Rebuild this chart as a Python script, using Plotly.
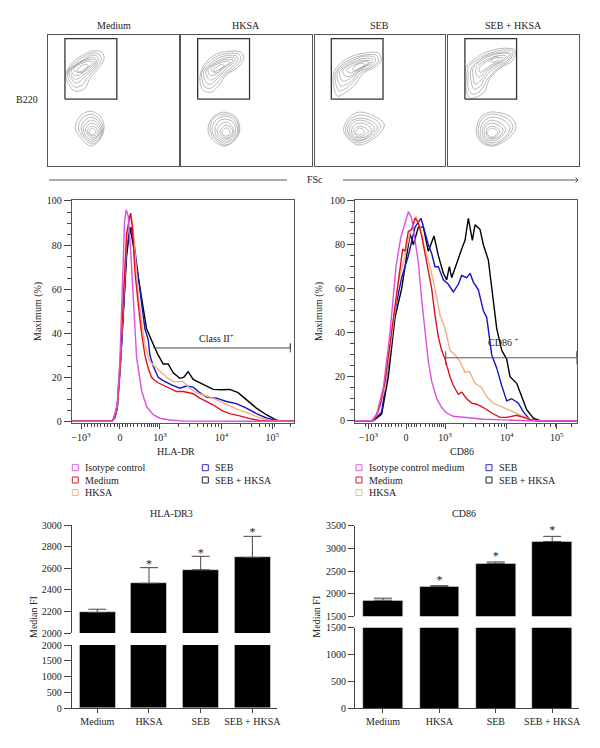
import plotly.graph_objects as go

W, H = 600, 748
SERIF = "Liberation Serif"
TXT = "#222222"
AX = "#444444"

# ---------- gating contour data (FSc, B220 in panel channel units) ----------
panel_names = ["Medium", "HKSA", "SEB", "SEB + HKSA"]
gate_x = [16.7, 68.7, 68.7, 16.7, 16.7]
gate_y = [67, 67, 127.7, 127.7, 67]

medium_top = [
    [(17.7,92.7),(23.3,102.7),(31.7,109.3),(43.3,115),(53.3,114.3),(56,107.7),(50,97.7),(41.7,87.7),(36.7,77.7),(26.7,75),(21,81),(17.7,87.7)],
    [(19,93),(24,101),(32,107),(43,113),(51,112),(53,106),(47,97),(39,88),(34,81),(27,79),(22,84)],
    [(20,94),(25,100),(33,105),(43,111),(49,110),(50,105),(45,97),(37,90),(32,85),(27,83),(23,88)],
    [(21,95),(26,100),(34,105),(43,109),(47,108),(48,104),(43,97),(36,92),(31,88),(27,87),(23,91)],
    [(23,96),(28,101),(35,105),(43,107),(46,106),(46,103),(41,98),(35,94),(30,91),(26,91)],
    [(25,97),(30,101),(36,104),(42,105),(44,104),(43,101),(38,98),(33,95),(29,94)],
    [(29,96),(33,100),(38,102),(40,101),(38,97),(34,94),(31,94)],
]
medium_low = [
    [(56,39),(52,50),(42,55),(32,50),(27,39),(32,29),(43,20),(52,27)],
    [(55,38),(51,47),(43,52),(34,48),(30,39),(34,30),(44,22),(52,28)],
    [(54,37),(50,45),(43,49),(36,45),(33,38),(36,30),(44,24),(51,29)],
    [(53,36),(50,42),(44,46),(38,43),(35,37),(38,30),(44,26),(50,30)],
    [(52,35),(49,40),(44,43),(40,41),(37,36),(40,31),(44,28),(49,30)],
    [(50,35),(48,38),(44,40),(41,38),(39,35),(41,32),(44,30),(48,31)],
    [(48,34),(46,37),(44,38),(42,36),(41,34),(42,32),(44,31),(46,32)],
]
hksa_top = [
    [(20,94),(25,104),(35,112),(48,115),(60,114),(63,108),(57,99),(45,91),(38,81),(30,74),(22,76),(19,86)],
    [(21,94),(26,102),(36,110),(48,113),(58,112),(60,107),(54,99),(43,91),(36,83),(30,78),(24,79),(21,87)],
    [(23,95),(28,101),(37,108),(48,111),(56,110),(57,106),(51,99),(41,92),(35,86),(30,82),(26,83),(23,89)],
    [(25,96),(30,101),(38,106),(48,109),(54,108),(54,105),(48,100),(40,93),(34,88),(30,86),(27,88)],
    [(27,97),(32,101),(39,105),(47,107),(52,106),(51,104),(45,100),(38,94),(33,91),(29,91)],
    [(30,97),(34,101),(41,104),(47,105),(49,104),(47,102),(42,99),(37,96),(33,94)],
    [(33,97),(37,100),(41,102),(43,100),(39,96),(36,93),(34,94)],
]
hksa_low = [
    [(59,37),(55,49),(43,54),(32,49),(27,37),(31,27),(43,20),(54,26)],
    [(58,37),(54,48),(43,52),(33,48),(29,37),(33,28),(44,21),(54,27)],
    [(57,36),(53,46),(44,50),(35,46),(31,36),(35,28),(44,23),(53,28)],
    [(55,36),(52,44),(44,47),(37,44),(34,35),(37,28),(45,25),(52,29)],
    [(53,35),(50,41),(45,44),(39,41),(36,35),(39,29),(45,27),(51,30)],
    [(52,35),(49,39),(45,41),(41,38),(39,34),(41,30),(45,28),(49,30)],
    [(49,34),(48,37),(45,38),(42,36),(41,34),(42,31),(45,30),(48,31)],
]
seb_top = [
    [(19,93),(24,101),(35,109),(49,113),(64,113),(67,106),(60,99),(49,93),(40,81),(30,73),(23,70),(19,81)],
    [(21,93),(26,100),(36,107),(49,111),(62,111),(64,105),(57,99),(46,93),(38,83),(30,77),(25,75),(21,83)],
    [(23,94),(28,100),(38,106),(50,110),(60,109),(61,105),(54,99),(44,94),(37,85),(30,81),(26,80),(23,86)],
    [(25,94),(31,100),(40,105),(51,108),(58,107),(58,104),(52,100),(43,94),(36,88),(30,85),(27,86)],
    [(28,95),(33,100),(42,104),(51,106),(56,105),(55,103),(50,100),(42,95),(36,90),(31,90)],
    [(32,96),(37,100),(44,103),(51,105),(54,104),(52,101),(47,99),(41,96),(36,93)],
    [(38,97),(42,101),(47,103),(50,102),(48,99),(43,96),(40,95)],
]
seb_low = [
    [(70,41),(62,49),(45,54),(35,49),(29,36),(35,26),(45,21),(60,28)],
    [(66,40),(60,47),(46,51),(36,47),(31,36),(36,27),(45,23),(58,29)],
    [(63,39),(57,45),(46,48),(37,45),(33,36),(37,28),(45,25),(56,30)],
    [(60,38),(55,43),(46,46),(38,43),(35,35),(38,29),(45,26),(54,30)],
    [(57,36),(53,41),(46,43),(40,41),(37,35),(39,30),(45,28),(52,30)],
    [(54,35),(51,38),(46,40),(41,38),(39,35),(41,31),(45,29),(50,31)],
    [(50,34),(48,37),(45,38),(42,36),(41,34),(42,32),(45,31),(48,32)],
]
both_top = [
    [(18,99),(25,106),(38,114),(55,118),(67,116),(65,106),(52,98),(42,88),(35,73),(22,68),(18,76),(18,89)],
    [(20,99),(27,105),(39,112),(54,116),(65,115),(62,106),(50,98),(40,88),(33,76),(24,72),(20,79),(20,90)],
    [(23,98),(29,104),(40,111),(54,114),(63,113),(60,106),(48,99),(38,90),(32,80),(26,77),(23,84)],
    [(25,98),(31,104),(41,110),(54,113),(61,112),(57,106),(46,100),(37,92),(31,84),(27,82),(25,89)],
    [(28,98),(33,103),(42,108),(53,111),(58,110),(55,106),(44,100),(36,94),(31,89),(28,92)],
    [(31,98),(36,103),(44,107),(52,109),(55,108),(51,105),(43,101),(36,96),(32,94)],
    [(43,106),(47,110),(51,108),(48,105),(44,104)],
]
both_low = [
    [(68,39),(63,49),(42,54),(32,48),(28,34),(33,24),(45,20),(62,29)],
    [(65,39),(60,47),(43,52),(33,46),(30,34),(34,25),(45,21),(59,29)],
    [(62,38),(57,45),(44,49),(35,44),(32,34),(35,26),(45,23),(57,29)],
    [(58,37),(54,42),(44,46),(37,42),(34,34),(37,27),(45,25),(54,30)],
    [(55,36),(52,40),(44,43),(38,40),(36,33),(38,28),(45,27),(52,30)],
    [(52,35),(49,38),(44,40),(40,38),(38,33),(40,29),(45,28),(50,31)],
    [(50,34),(47,37),(44,38),(41,36),(39,33),(41,30),(45,29),(48,31)],
]
panel_rings = [medium_top + medium_low, hksa_top + hksa_low, seb_top + seb_low, both_top + both_low]

# ---------- histogram data (display channel, % of maximum) ----------
hla_ticks = [153, 270, 390, 575, 728]
hist_ticktext = ["\u221210<sup>3</sup>", "0", "10<sup>3</sup>", "10<sup>4</sup>", "10<sup>5</sup>"]
hla_minor = [163,173,183,193,203,213,223,233,243,253,262,278,286,294,302,310,322,336,345,352,358,364,370,376,382,
             445,478,502,520,534,546,556,566,631,664,688,706,720,733,781]
cd86_ticks = [175, 288, 405, 590, 740]
cd86_minor = [165,185,195,205,215,225,235,245,255,265,275,296,304,312,320,330,345,358,366,374,382,388,394,400,
              460,495,520,538,552,564,574,582,645,680,704,722,736,785]

hla_iso_x = [125,245,250,262,270,278,284,289,295,302,310,320,335,350,370,390,420,460,793]
hla_iso_y = [0,0,0.6,8,29,67,91,96,93,78,54,29,14,6.7,3,1.4,0.6,0.1,0]
hla_med_x = [125,245,255,262,270,280,290,298,302,308,315,325,335,345,355,365,375,385,400,420,440,460,475,490,510,530,550,575,600,630,660,690,720,793]
hla_med_y = [0,0,2,8,25,55,85,92,94.5,87,68,53,40,30,24,20,18.5,17.5,16.5,15,13.5,13.5,13,12.5,10.5,9,7.5,5,3.5,2.5,1.2,0.4,0,0]
hla_hksa_x = [125,245,255,262,270,280,290,298,302,308,315,325,335,345,360,375,390,410,430,460,480,500,530,550,570,600,630,660,690,720,793]
hla_hksa_y = [0,0,2,7,24,53,82,91,94,90,75,58,45,35,27,25,23,20,18,18,15,13,11.5,10.5,9,7,5,3.5,1.5,0.5,0]
hla_seb_x = [125,245,255,262,270,280,290,298,303,310,318,328,338,345,355,360,370,385,400,425,450,470,490,510,530,560,590,620,650,680,710,740,793]
hla_seb_y = [0,0,1.5,6,22,50,78,86,88,84,75,62,50,42,37,30,25,20,18.5,16.5,15,16,15.5,13,11,10.5,9,8,6,3.5,1.5,0.3,0]
hla_both_x = [125,245,250,262,275,290,300,310,320,335,350,370,385,400,415,430,450,462,475,490,510,530,550,575,600,625,650,680,710,740,755,793]
hla_both_y = [0,0,1,6,35,75,88,80,70,55,42,35,30,26,26,22,19.5,20,22.5,19,17.5,16,14.5,14.3,14.5,13,10,6,3,0.6,0,0]
hla_gate_x = [370, 782, 782, 782]
hla_gate_y = [33.3, 33.3, 35.3, 31.3]

cd_iso_x = [135,185,200,220,240,258,272,285,295,305,315,325,335,345,355,365,380,395,410,430,460,490,520,560,600,650,800]
cd_iso_y = [0,0,3,15,40,70,83,90,95,92,82,72,55,40,27,18,10,6,3.5,2,1.5,1,0.7,0.5,0.3,0,0]
cd_med_x = [135,185,195,210,225,240,260,278,285,295,305,315,325,335,350,365,375,385,395,405,420,430,445,455,470,485,500,520,545,570,590,620,640,660,680,800]
cd_med_y = [0,0,1,7,18,35,60,78,77,86,87,92,90,84,72,60,48,38,32,28,20,16,12,13,10,8,7.5,6,3.5,1.5,1.5,2.5,1.5,0.5,0,0]
cd_hksa_x = [135,190,205,225,245,265,285,300,318,330,345,360,375,390,405,420,435,450,465,478,495,515,530,550,580,610,635,655,670,800]
cd_hksa_y = [0,0,4,15,38,63,75,85,93,88,78,70,60,48,42,32,30,27,22,22.5,17,15,11,8,6,4,2.5,0.8,0,0]
cd_seb_x = [135,190,215,235,255,275,295,315,333,345,355,365,375,385,400,415,430,445,455,470,480,490,505,520,530,545,560,575,590,605,625,640,660,680,800]
cd_seb_y = [0,0,4,25,50,65,75,88,92,85,80,76,70,70,64,62,58.5,62,66,65,67,63,59.5,50,47,30,24,16,9,10,8,4,0.5,0,0]
cd_both_x = [135,190,215,235,255,275,300,310,325,340,355,372,385,400,410,418,425,440,455,465,475,487,495,510,520,535,545,560,575,590,600,620,635,650,670,690,800]
cd_both_y = [0,0,3,20,47,60,85,80,88,88,77,84,75,67,64,70,65,72,78,82,92,82,89,87,80,73,60,42,32,28,20,17,11,5,1.2,0,0]
cd_gate_x = [407, 407, 407, 800, 800, 800]
cd_gate_y = [31.6, 25.6, 28.6, 28.6, 31.6, 25.6]

# ---------- bar data ----------
bar_cats = ["Medium", "HKSA", "SEB", "SEB + HKSA"]
hla_vals = [2190, 2460, 2585, 2700]
hla_err = [30, 145, 125, 195]
hla_star_cat = ["HKSA", "SEB", "SEB + HKSA"]
hla_star_y = [2630, 2735, 2930]
cd_vals = [1855, 2155, 2670, 3150]
cd_err = [45, 20, 30, 115]
cd_star_y = [2280, 2810, 3390]

# legend content
legend_left = ["Isotype control", "Medium", "HKSA", "SEB", "SEB + HKSA"]
legend_right = ["Isotype control medium", "Medium", "HKSA", "SEB", "SEB + HKSA"]
legend_colors = ["#e25ae2", "#d8202c", "#f2b98c", "#2a2ac8", "#222222"]
hist_colors = {"iso": "#dd4fdd", "med": "#e0101c", "hksa": "#f0b080", "seb": "#1414c8", "both": "#000000"}


def dx(p0, p1):
    return [p0 / W, p1 / W]


def dy(top, bottom):
    return [1 - bottom / H, 1 - top / H]


fig = go.Figure()
layout = {}
annotations = []
shapes = []


def note(text, x, y, size=10, angle=0, xanchor="center"):
    annotations.append(dict(text=text, x=x / W, y=1 - y / H, xref="paper", yref="paper", showarrow=False,
                            font=dict(family=SERIF, size=size, color=TXT), textangle=angle,
                            xanchor=xanchor, yanchor="middle"))


# --- contour panels ---
panel_px = [(48.3, 179), (181, 311.7), (314.7, 445), (448.3, 578.5)]
for i, (x0, x1) in enumerate(panel_px):
    n = i + 1
    xa, ya = f"x{n}", f"y{n}"
    layout[f"xaxis{n}"] = dict(domain=dx(x0, x1), range=[0, 131], anchor=ya, showticklabels=False, ticks="",
                               showgrid=False, zeroline=False, showline=True, mirror=True,
                               linecolor="#555555", linewidth=1.2)
    layout[f"yaxis{n}"] = dict(domain=dy(35.3, 166), range=[0, 131], anchor=xa, showticklabels=False, ticks="",
                               showgrid=False, zeroline=False, showline=True, mirror=True,
                               linecolor="#555555", linewidth=1.2)
    for ring in panel_rings[i]:
        xs = [p[0] for p in ring] + [ring[0][0]]
        ys = [p[1] for p in ring] + [ring[0][1]]
        fig.add_trace(go.Scatter(x=xs, y=ys, xaxis=xa, yaxis=ya, mode="lines", showlegend=False, hoverinfo="skip",
                                 line=dict(color="#8a8a8a", width=0.6, shape="spline", smoothing=1)))
    fig.add_trace(go.Scatter(x=gate_x, y=gate_y, xaxis=xa, yaxis=ya, mode="lines", showlegend=False, hoverinfo="skip",
                             line=dict(color="#333333", width=1.3)))
    note(panel_names[i], (x0 + x1) / 2, 25.7)

note("B220", 27, 100)
note("FSc", 315, 180)
shapes.append(dict(type="line", xref="paper", yref="paper", x0=49 / W, x1=287 / W, y0=1 - 180 / H, y1=1 - 180 / H,
                   line=dict(color="#444444", width=0.9)))
shapes.append(dict(type="line", xref="paper", yref="paper", x0=343 / W, x1=578 / W, y0=1 - 180 / H, y1=1 - 180 / H,
                   line=dict(color="#444444", width=0.9)))
for dyy in (-2.5, 2.5):
    shapes.append(dict(type="line", xref="paper", yref="paper", x0=575.5 / W, x1=578 / W, y0=1 - (180 + dyy) / H,
                       y1=1 - 180 / H, line=dict(color="#444444", width=0.9)))


# --- histograms ---
def hist_axes(n, px0, px1, top, bottom, xr, ticks, minor, ylen):
    layout[f"xaxis{n}"] = dict(domain=dx(px0, px1), range=xr, anchor=f"y{n}", tickmode="array", tickvals=ticks,
                               ticktext=hist_ticktext, ticks="outside", ticklen=5, tickcolor=AX, tickwidth=0.9,
                               minor=dict(tickmode="array", tickvals=minor, ticks="outside", ticklen=3,
                                          tickcolor=AX, tickwidth=0.7),
                               showgrid=False, zeroline=False, showline=True, mirror=True, linecolor="#555555",
                               linewidth=1, tickfont=dict(family=SERIF, size=10, color=TXT))
    layout[f"yaxis{n}"] = dict(domain=dy(top, bottom), range=[-0.9, 100.45], anchor=f"x{n}", tickmode="array",
                               tickvals=[0, 20, 40, 60, 80, 100], ticks="outside", ticklen=ylen, tickcolor=AX,
                               tickwidth=0.9,
                               minor=dict(tickmode="array", tickvals=[5, 10, 15, 25, 30, 35, 45, 50, 55, 65, 70, 75, 85, 90, 95],
                                          ticks="outside", ticklen=4, tickcolor=AX, tickwidth=0.7),
                               showgrid=False, zeroline=False, showline=True, mirror=True, linecolor="#555555",
                               linewidth=1, tickfont=dict(family=SERIF, size=10, color=TXT))


hist_axes(5, 71.7, 294, 200, 423.3, [125, 793], hla_ticks, hla_minor, 7)
hist_axes(6, 355, 576.7, 199.7, 422.7, [135, 800], cd86_ticks, cd86_minor, 7)

for xs, ys, c in [(hla_both_x, hla_both_y, "both"), (hla_seb_x, hla_seb_y, "seb"), (hla_hksa_x, hla_hksa_y, "hksa"),
                  (hla_med_x, hla_med_y, "med"), (hla_iso_x, hla_iso_y, "iso")]:
    fig.add_trace(go.Scatter(x=xs, y=ys, xaxis="x5", yaxis="y5", mode="lines", showlegend=False, hoverinfo="skip",
                             line=dict(color=hist_colors[c], width=1.4)))
fig.add_trace(go.Scatter(x=hla_gate_x, y=hla_gate_y, xaxis="x5", yaxis="y5", mode="lines", showlegend=False,
                         hoverinfo="skip", line=dict(color="#444444", width=1)))
for xs, ys, c in [(cd_both_x, cd_both_y, "both"), (cd_seb_x, cd_seb_y, "seb"), (cd_hksa_x, cd_hksa_y, "hksa"),
                  (cd_med_x, cd_med_y, "med"), (cd_iso_x, cd_iso_y, "iso")]:
    fig.add_trace(go.Scatter(x=xs, y=ys, xaxis="x6", yaxis="y6", mode="lines", showlegend=False, hoverinfo="skip",
                             line=dict(color=hist_colors[c], width=1.4)))
fig.add_trace(go.Scatter(x=cd_gate_x, y=cd_gate_y, xaxis="x6", yaxis="y6", mode="lines", showlegend=False,
                         hoverinfo="skip", line=dict(color="#555555", width=1)))

note("Class II<sup>+</sup>", 216, 337.5)
note("CD86 <sup>+</sup>", 502.5, 342)
note("HLA-DR", 176, 451.7)
note("CD86", 461.7, 451.7)
note("Maximum (%)", 37.3, 311.7, angle=-90)
note("Maximum (%)", 319, 312, angle=-90)

# --- legends ---
leg_pos = [(0, 467.7), (0, 480), (0, 492.5), (130, 467.7), (130, 480)]
for ox, labels in [(75.3, legend_left), (359, legend_right)]:
    for (d, y), lab, col in zip(leg_pos, labels, legend_colors):
        x = ox + d
        shapes.append(dict(type="rect", xref="paper", yref="paper", x0=(x - 3) / W, x1=(x + 3) / W,
                           y0=1 - (y + 3) / H, y1=1 - (y - 3) / H, line=dict(color=col, width=1), fillcolor="white"))
        note(lab, x + 8, y, xanchor="left")


# --- broken-axis bars ---
def bar_panel(nu, nl, px0, px1, rng_x, top_t, top_b, low_t, low_b, up_rng, up_ticks, low_rng, low_ticks, vals, err,
              star_cats, star_y, ticklen):
    xu, yu, xl, yl = f"x{nu}", f"y{nu}", f"x{nl}", f"y{nl}"
    base = dict(type="linear", range=rng_x, domain=dx(px0, px1), showgrid=False, zeroline=False)
    idx = list(range(len(bar_cats)))
    layout[f"xaxis{nu}"] = dict(base, anchor=yu, showticklabels=False, ticks="", showline=False)
    layout[f"xaxis{nl}"] = dict(base, anchor=yl, tickmode="array", tickvals=idx, ticktext=bar_cats, ticks="outside",
                                ticklen=4, tickcolor=AX, showline=True, linecolor=AX, linewidth=1,
                                tickfont=dict(family=SERIF, size=10, color=TXT))
    common = dict(showgrid=False, zeroline=False, showline=True, linecolor=AX, linewidth=1, ticks="outside",
                  ticklen=ticklen, tickcolor=AX, tickfont=dict(family=SERIF, size=10, color=TXT), tickmode="array")
    layout[f"yaxis{nu}"] = dict(common, domain=dy(top_t, top_b), range=up_rng, anchor=xu, tickvals=up_ticks)
    layout[f"yaxis{nl}"] = dict(common, domain=dy(low_t, low_b), range=low_rng, anchor=xl, tickvals=low_ticks)
    fig.add_trace(go.Bar(x=idx, y=vals, xaxis=xu, yaxis=yu, width=0.7, marker=dict(color="#000000"), showlegend=False,
                         error_y=dict(type="data", symmetric=False, array=err, arrayminus=[0] * len(err),
                                      color="#444444", thickness=1, width=9)))
    fig.add_trace(go.Bar(x=idx, y=vals, xaxis=xl, yaxis=yl, width=0.7, marker=dict(color="#000000"), showlegend=False))
    fig.add_trace(go.Scatter(x=[bar_cats.index(c) for c in star_cats], y=star_y, xaxis=xu, yaxis=yu, mode="text",
                             text=["*"] * len(star_cats), textposition="middle center", showlegend=False,
                             textfont=dict(family=SERIF, size=12, color=TXT), cliponaxis=False))


bar_panel(7, 8, 71.7, 277, [-0.495, 3.476], 525, 633, 645, 708.3, [2000, 3000], [2000, 2200, 2400, 2600, 2800, 3000],
          [0, 2000], [0, 500, 1000, 1500, 2000], hla_vals, hla_err, hla_star_cat, hla_star_y, 7)
bar_panel(9, 10, 355, 579, [-0.496, 3.475], 525.7, 616.3, 627.7, 708.3, [1500, 3500], [1500, 2000, 2500, 3000, 3500],
          [0, 1500], [0, 500, 1000, 1500], cd_vals, cd_err, hla_star_cat, cd_star_y, 6)

note("HLA-DR3", 171.7, 513)
note("CD86", 464, 513)
note("Median FI", 33, 617, angle=-90)
note("Median FI", 315.7, 617, angle=-90)

layout.update(width=W, height=H, margin=dict(l=0, r=0, t=0, b=0, autoexpand=False), autosize=False, paper_bgcolor="white",
              plot_bgcolor="rgba(0,0,0,0)", showlegend=False, annotations=annotations, shapes=shapes, bargap=0,
              font=dict(family=SERIF, size=10, color=TXT))
fig.update_layout(**layout)
fig.write_html("out.html", config={"displayModeBar": False}, post_script="document.body.style.margin='0';")
